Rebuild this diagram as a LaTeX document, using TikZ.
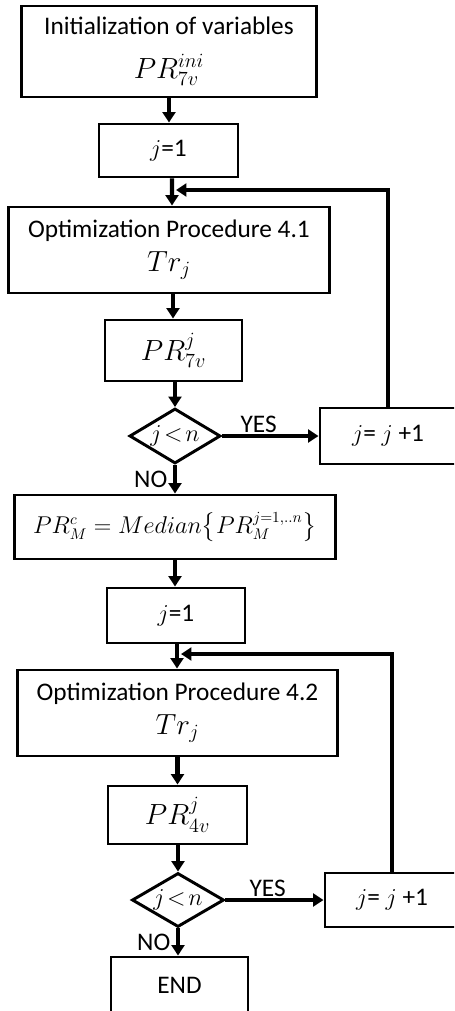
\documentclass[tikz,border=0pt]{standalone}
\usepackage{amsmath}
\usepackage{fontspec}
\setmainfont{Carlito}
\usetikzlibrary{shapes.geometric,arrows.meta,positioning}

\begin{document}
\begin{tikzpicture}[x=0.025cm, y=-0.025cm,
  box/.style={draw, rectangle, line width=2.1pt, align=center, inner sep=1mm, font=\fontsize{18}{22}\selectfont},
  decision/.style={draw, diamond, line width=2.1pt, aspect=1.65, inner sep=0pt, font=\fontsize{18}{22}\selectfont},
  flow/.style={-{Triangle[width=0.32cm, length=0.26cm]}, line width=2.9pt},
  lbl/.style={font=\fontsize{18}{22}\selectfont, inner sep=1pt}
]
\useasboundingbox (0,0) rectangle (454,1011);
\clip (0,0) rectangle (454,1011);

% First loop
\node[box, minimum width=7.35cm, minimum height=2.275cm] (init) at (169, 51.5) {Initialization of variables\\[9pt] \fontsize{20}{22}\selectfont $PR_{7v}^{ini}$};
\node[box, minimum width=3.475cm, minimum height=1.325cm] (jone1) at (168.5, 150.5) {$j$=1};
\node[box, minimum width=8cm, minimum height=2.15cm] (opt1) at (169, 250) {Optimization Procedure 4.1\\[2pt] \fontsize{20}{22}\selectfont $Tr_j$};
\node[box, minimum width=3.425cm, minimum height=1.525cm, font=\fontsize{20}{22}\selectfont] (pr7) at (173.5, 350.5) {$PR_{7v}^{j}$};
\node[decision, minimum width=2.275cm, minimum height=1.375cm] (test1) at (175, 436) {$j\!<\!n$};
\node[box, minimum width=3.4cm, minimum height=1.4cm] (inc1) at (388, 436) {$j$= $j$ +1};
\coordinate (back1) at (176, 190);

% Median
\node[box, minimum width=8cm, minimum height=1.6cm, font=\fontsize{16}{20}\selectfont] (med) at (175, 527) {$PR_M^c = Median\bigl\{PR_M^{j=1,..n}\bigr\}$};

% Second loop
\node[box, minimum width=3.45cm, minimum height=1.375cm] (jone2) at (176, 615.5) {$j$=1};
\node[box, minimum width=7.975cm, minimum height=2.15cm] (opt2) at (177.5, 713) {Optimization Procedure 4.2\\[2pt] \fontsize{20}{22}\selectfont $Tr_j$};
\node[box, minimum width=3.475cm, minimum height=1.45cm, font=\fontsize{20}{22}\selectfont] (pr4) at (177.5, 815) {$PR_{4v}^{j}$};
\node[decision, minimum width=2.3cm, minimum height=1.35cm] (test2) at (178, 900) {$j\!<\!n$};
\node[box, minimum width=3.35cm, minimum height=1.35cm] (inc2) at (392, 900) {$j$= $j$ +1};
\node[box, minimum width=3.425cm, minimum height=1.4cm] (end) at (179.5, 985) {END};
\coordinate (back2) at (181, 654);

% Arrows
\draw[flow] (init.south) -- (init.south |- jone1.north);
\draw[flow] (jone1.south -| back1) ++(-4,0) -- ([xshift=-0.1cm]back1 |- opt1.north);
\draw[flow] (opt1.south) ++(4,0) coordinate (o1) -- (o1 |- pr7.north);
\draw[flow] (pr7.south) ++(1.5,0) coordinate (p7) -- (p7 |- test1.north);
\draw[flow] (test1.east) -- (inc1.west) node[pos=0.38, above, lbl] {YES};
\draw[flow] (inc1.north) |- (back1);
\draw[flow] (test1.south) -- (med.north) node[midway, left, lbl, xshift=-3pt] {NO};
\draw[flow] (med.south) -- (med.south |- jone2.north);
\draw[flow] (jone2.south) ++(1,0) coordinate (j2) -- (j2 |- opt2.north);
\draw[flow] (opt2.south) -- (opt2.south |- pr4.north);
\draw[flow] (pr4.south) ++(0.5,0) coordinate (p4) -- (p4 |- test2.north);
\draw[flow] (test2.east) -- (inc2.west) node[pos=0.43, above, lbl] {YES};
\draw[flow] (inc2.north) |- (back2);
\draw[flow] (test2.south) -- (test2.south |- end.north) node[midway, left, lbl, xshift=-3pt] {NO};

\end{tikzpicture}
\end{document}
